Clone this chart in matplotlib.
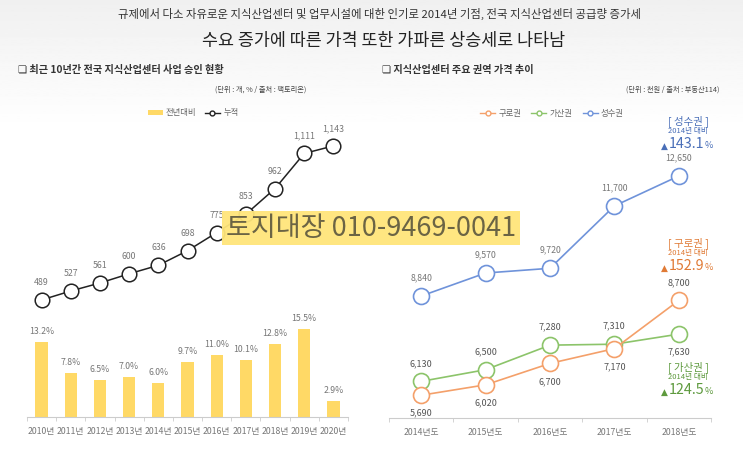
import matplotlib.pyplot as plt
import numpy as np
from matplotlib.patches import Patch
from matplotlib.lines import Line2D

plt.rcParams['font.family'] = ['Noto Sans CJK KR', 'DejaVu Sans']

W, H = 743, 455

# 왼쪽: 지식산업센터 사업 승인 현황
years = ['2010년', '2011년', '2012년', '2013년', '2014년', '2015년',
         '2016년', '2017년', '2018년', '2019년', '2020년']
yoy = [13.2, 7.8, 6.5, 7.0, 6.0, 9.7, 11.0, 10.1, 12.8, 15.5, 2.9]
cum = [489, 527, 561, 600, 636, 698, 775, 853, 962, 1111, 1143]

# 오른쪽: 주요 권역 가격 추이
periods = ['2014년도', '2015년도', '2016년도', '2017년도', '2018년도']
guro = [5690, 6020, 6700, 7170, 8700]
gasan = [6130, 6500, 7280, 7310, 7630]
seongsu = [8840, 9570, 9720, 11700, 12650]

guro_pos = ['below', 'below', 'below', 'below', 'above']
gasan_pos = ['above', 'above', 'above', 'above', 'below']

c_bar = '#FFD966'
c_guro = '#F4A06A'
c_gasan = '#8CC46A'
c_seong = '#6F93DA'
c_txt = '#777777'


def rect(x0, y0, x1, y1):
    return [x0 / W, (H - y1) / H, (x1 - x0) / W, (y1 - y0) / H]


def ftext(x, y, s, **kw):
    fig.text(x / W, 1 - y / H, s, **kw)


fig = plt.figure(figsize=(W / 100, H / 100), dpi=100)

# 배경 (상단 회색 그라데이션)
bg = fig.add_axes([0, 0, 1, 1])
grad = np.linspace(0.94, 1.0, 100).reshape(-1, 1)
grad = np.vstack([grad, np.ones((250, 1))])
bg.imshow(grad, cmap='gray', vmin=0, vmax=1, aspect='auto', extent=[0, 1, 0, 1])
bg.axis('off')
bg.set_zorder(-10)

ftext(380, 14, '규제에서 다소 자유로운 지식산업센터 및 업무시설에 대한 인기로 2014년 기점, 전국 지식산업센터 공급량 증가세',
      ha='center', va='center', fontsize=8.2, color='#333333')
ftext(384, 41, '수요 증가에 따른 가격 또한 가파른 상승세로 나타남',
      ha='center', va='center', fontsize=12.5, color='#222222')
ftext(18, 70, '❏ 최근 10년간 전국 지식산업센터 사업 승인 현황',
      ha='left', va='center', fontsize=7.3, color='#333333', fontweight='bold')
ftext(382, 70, '❏ 지식산업센터 주요 권역 가격 추이',
      ha='left', va='center', fontsize=7.3, color='#333333', fontweight='bold')
ftext(306, 90, '(단위 : 개, % / 출처 : 팩토리온)', ha='right', va='center',
      fontsize=5.2, color='#444444')
ftext(719, 90, '(단위 : 천원 / 출처 : 부동산114)', ha='right', va='center',
      fontsize=5.2, color='#444444')

# ---------------- 왼쪽 차트 ----------------
ax1 = fig.add_axes(rect(27, 120, 348, 417))
ax1.patch.set_alpha(0)
x = np.arange(len(years))
ax1.bar(x, yoy, width=0.42, color=c_bar, zorder=2)
for i, v in enumerate(yoy):
    ax1.annotate(f'{v:.1f}%', (i, v), xytext=(0, 7.5), textcoords='offset points',
                 ha='center', va='center', fontsize=6.3, color=c_txt)
ax1.set_xlim(-0.5, 10.5)
ax1.set_ylim(0, 52.3)
ax1.set_yticks([])
ax1.set_xticks(x)
ax1.set_xticklabels(years, fontsize=6.3, color=c_txt)
ax1.set_xticks(np.arange(-0.5, 11, 1), minor=True)
ax1.tick_params(axis='x', which='major', length=0, pad=7)
ax1.tick_params(axis='x', which='minor', length=3, color='#cccccc')
for s in ['top', 'left', 'right']:
    ax1.spines[s].set_visible(False)
ax1.spines['bottom'].set_color('#cccccc')

ax1b = ax1.twinx()
ax1b.plot(x, cum, color='#222222', lw=1.1, marker='o', markersize=10.5,
          markerfacecolor='white', markeredgecolor='#222222', markeredgewidth=1.1, zorder=3)
for i, v in enumerate(cum):
    ax1b.annotate(f'{v:,}', (i, v), xytext=(0, 12.5), textcoords='offset points',
                  ha='center', va='center', fontsize=6.3, color=c_txt)
ax1b.set_ylim(-8, 1253)
ax1b.set_yticks([])
for s in ['top', 'left', 'right', 'bottom']:
    ax1b.spines[s].set_visible(False)

h1 = [Patch(facecolor=c_bar, edgecolor='none', label='전년대비'),
      Line2D([0], [0], color='#222222', lw=1, marker='o', markersize=3.5,
             markerfacecolor='white', label='누적')]
ax1b.legend(handles=h1, loc='center', bbox_to_anchor=(0.517, 1.024), ncol=2,
            frameon=False, fontsize=6, handlelength=1.8, handleheight=0.5,
            columnspacing=1.0, handletextpad=0.4, labelcolor='#666666')

# ---------------- 오른쪽 차트 ----------------
ax2 = fig.add_axes(rect(389, 120, 711, 418))
ax2.patch.set_alpha(0)
x2 = np.arange(len(periods))
for vals, col, name in [(seongsu, c_seong, '성수권'), (gasan, c_gasan, '가산권'), (guro, c_guro, '구로권')]:
    ax2.plot(x2, vals, color=col, lw=1.2, marker='o', markersize=11.5,
             markerfacecolor='white', markeredgecolor=col, markeredgewidth=1.2,
             label=name, zorder=3)

for i, v in enumerate(seongsu):
    ax2.annotate(f'{v:,}', (i, v), xytext=(0, 13), textcoords='offset points',
                 ha='center', va='center', fontsize=6.3, color=c_txt)
for vals, pos in [(guro, guro_pos), (gasan, gasan_pos)]:
    for i, v in enumerate(vals):
        dy = 13 if pos[i] == 'above' else -13
        ax2.annotate(f'{v:,}', (i, v), xytext=(0, dy), textcoords='offset points',
                     ha='center', va='center', fontsize=6.5, color='#555555')

ax2.set_xlim(-0.5, 4.5)
ax2.set_ylim(4967, 14428)
ax2.set_yticks([])
ax2.set_xticks(x2)
ax2.set_xticklabels(periods, fontsize=6.3, color=c_txt)
ax2.set_xticks(np.arange(-0.5, 5, 1), minor=True)
ax2.tick_params(axis='x', which='major', length=0, pad=7)
ax2.tick_params(axis='x', which='minor', length=3, color='#cccccc')
for s in ['top', 'left', 'right']:
    ax2.spines[s].set_visible(False)
ax2.spines['bottom'].set_color('#cccccc')

h2 = [Line2D([0], [0], color=c, lw=1, marker='o', markersize=3.5,
             markerfacecolor='white', label=n)
      for c, n in [(c_guro, '구로권'), (c_gasan, '가산권'), (c_seong, '성수권')]]
ax2.legend(handles=h2, loc='center', bbox_to_anchor=(0.506, 1.023), ncol=3,
           frameon=False, fontsize=6, handlelength=1.8, columnspacing=1.2,
           handletextpad=0.4, labelcolor='#666666')

# 권역별 상승률 표시
for (yc, name, pct, col) in [(121, '[ 성수권 ]', '143.1', '#4A6FB8'),
                             (243, '[ 구로권 ]', '152.9', '#E07A35'),
                             (367, '[ 가산권 ]', '124.5', '#5E9A3E')]:
    ftext(688, yc, name, ha='center', va='center', fontsize=7.5, color=col)
    ftext(688, yc + 10, '2014년 대비', ha='center', va='center', fontsize=5.5, color=col)
    ftext(704, yc + 23.5, pct, ha='right', va='center', fontsize=10.3, color=col)
    ftext(668, yc + 25, '▲', ha='right', va='center', fontsize=6.5, color=col,
          family=['DejaVu Sans'])
    ftext(705, yc + 25, '%', ha='left', va='center', fontsize=6.5, color=col)

# 워터마크
ftext(371, 228, '토지대장 010-9469-0041', ha='center', va='center', fontsize=19.5,
      color='#6B6444', zorder=10,
      bbox=dict(facecolor='#FFE57A', edgecolor='none', pad=2.5, alpha=0.95))

fig.savefig('out.png', dpi=100)
